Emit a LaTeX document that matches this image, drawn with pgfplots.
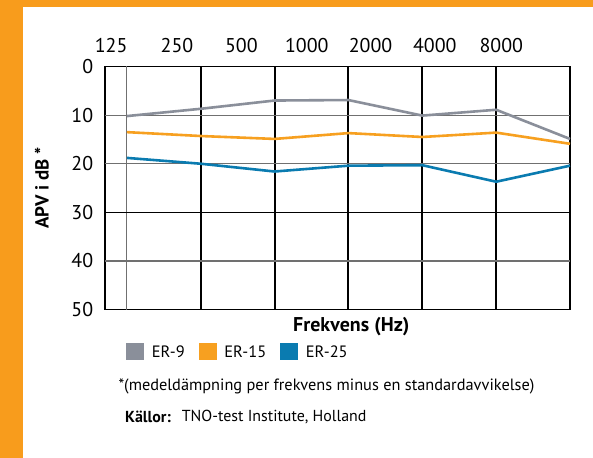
\documentclass[border=0pt]{standalone}
\usepackage{fontspec}
\setmainfont{PT Sans}
\usepackage{pgfplots}
\pgfplotsset{compat=1.18}
\definecolor{bord}{HTML}{F89C1C}
\definecolor{ergray}{HTML}{8A8F9A}
\definecolor{erorange}{HTML}{F7A020}
\definecolor{erblue}{HTML}{0A7BB0}
\definecolor{gridgray}{HTML}{707070}
\begin{document}
\begin{tikzpicture}[x=1bp,y=1bp]
\useasboundingbox (0,0) rectangle (593,458);
\fill[bord] (0,0) rectangle (593,458);
\fill[white] (23,0) rectangle (593,450.7);
\begin{axis}[
  at={(104.7bp,148.4bp)}, anchor=south west,
  scale only axis, width=465.3bp, height=243.1bp,
  xmin=-0.3, xmax=6, ymin=0, ymax=50, y dir=reverse,
  clip=false,
  axis line style={black, line width=1.8bp},
  /pgf/number format/assume math mode=true,
  tick label style={font=\fontsize{20}{23}\selectfont},
  major tick length=0pt,
  xtick=\empty,
  ytick={0,10,20,30,40,50},
  yticklabel style={xshift=-8bp},
  ylabel={\bfseries APV i dB *},
  ylabel style={font=\fontsize{19}{22}\selectfont, at={(axis description cs:-0.135,0.5)}, anchor=center},
  xlabel={\bfseries Frekvens (Hz)},
  xlabel style={font=\fontsize{20}{23}\selectfont, at={(axis description cs:0.530,-0.07)}, anchor=center},
  legend columns=3,
  legend style={at={(axis description cs:0.0458,-0.1386)}, anchor=north west,
    draw=none, fill=none, inner sep=0pt, font=\fontsize{16.5}{19}\selectfont,
    nodes={inner sep=0pt, anchor=west},
    /tikz/every odd column/.append style={column sep=7.7bp},
    /tikz/every even column/.append style={column sep=14bp}},
  legend image code/.code={\fill[#1, draw=none] (0bp,-8.5bp) rectangle (18bp,8.5bp);},
]
\draw[gridgray, line width=1.2bp] (axis cs:0,0) -- (axis cs:0,50);
\foreach \xx in {1,2,3,4,5}{
  \edef\tmp{\noexpand\draw[black, line width=1.9bp] (axis cs:\xx,0) -- (axis cs:\xx,50);}\tmp
}
\foreach \yy in {10,20,40}{
  \edef\tmp{\noexpand\draw[gridgray, line width=1.2bp] (axis cs:-0.3,\yy) -- (axis cs:6,\yy);}\tmp
}
\draw[black, line width=1.2bp] (axis cs:-0.3,30) -- (axis cs:6,30);
\addplot[ergray, line width=2.6bp, line join=round] coordinates {(0,10.2) (1,8.7) (2,7.0) (3,6.9) (4,10.1) (5,8.9) (6,14.9)};
\addlegendentry{ER-9}
\addplot[erorange, line width=2.6bp, line join=round] coordinates {(0,13.5) (1,14.3) (2,14.9) (3,13.7) (4,14.5) (5,13.6) (6,15.9)};
\addlegendentry{ER-15}
\addplot[erblue, line width=2.6bp, line join=round] coordinates {(0,18.8) (1,20.0) (2,21.6) (3,20.4) (4,20.3) (5,23.7) (6,20.4)};
\addlegendentry{ER-25}
\foreach \p/\l in {-0.213/125, 0.679/250, 1.55/500, 2.436/1000, 3.30/2000, 4.17/4000, 5.07/8000}{
  \edef\tmp{\noexpand\node[font=\noexpand\fontsize{20}{23}\noexpand\selectfont, anchor=center, yshift=21bp] at (axis cs:\p,0) {\l};}
  \tmp
}
\end{axis}
\node[anchor=west, font=\fontsize{16.4}{19}\selectfont, inner sep=0pt] at (118.3,72) {*(medeldämpning per frekvens minus en standardavvikelse)};
\node[anchor=west, font=\fontsize{16}{19}\selectfont\bfseries, inner sep=0pt] at (125,41.3) {Källor:};
\node[anchor=west, font=\fontsize{16}{19}\selectfont, inner sep=0pt] at (181.7,41.3) {TNO-test Institute, Holland};
\end{tikzpicture}
\end{document}
